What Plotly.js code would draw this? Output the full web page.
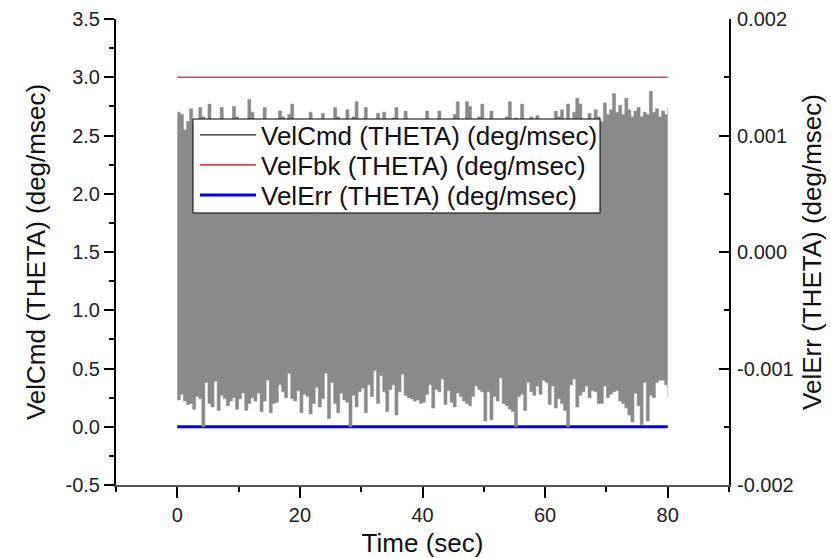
<!DOCTYPE html>
<html>
<head>
<meta charset="utf-8">
<script src="https://cdn.plot.ly/plotly-3.0.1.min.js"></script>
<style>html,body{margin:0;padding:0;background:#fff;}#chart{width:831px;height:558px;}</style>
</head>
<body>
<div id="chart"></div>
<script>
// Sampling grid for VelCmd envelope (seconds)
const timeStart = 0;
const timeStep = 0.5;
// VelCmd (THETA) upper envelope (peaks), one value per 0.5 s from 0 to 80 s
const velCmdUpper = [
  2.70,2.68,2.55,2.62,2.73,2.60,2.62,2.74,2.66,2.60,
  2.77,2.62,2.64,2.60,2.74,2.62,2.60,2.63,2.75,2.66,
  2.60,2.62,2.64,2.81,2.70,2.60,2.62,2.60,2.74,2.60,
  2.62,2.60,2.64,2.71,2.66,2.60,2.68,2.77,2.63,2.60,
  2.62,2.60,2.64,2.70,2.62,2.60,2.63,2.69,2.60,2.62,
  2.64,2.74,2.66,2.60,2.63,2.72,2.62,2.66,2.79,2.62,
  2.60,2.74,2.63,2.60,2.64,2.69,2.60,2.70,2.62,2.60,
  2.65,2.74,2.62,2.60,2.71,2.62,2.60,2.64,2.62,2.60,
  2.63,2.71,2.60,2.62,2.64,2.71,2.60,2.62,2.60,2.64,
  2.68,2.79,2.62,2.60,2.79,2.75,2.62,2.60,2.66,2.77,
  2.62,2.60,2.71,2.62,2.60,2.63,2.60,2.66,2.79,2.62,
  2.65,2.60,2.77,2.63,2.60,2.66,2.62,2.67,2.60,2.62,
  2.64,2.60,2.62,2.71,2.66,2.72,2.62,2.77,2.64,2.70,
  2.82,2.77,2.62,2.60,2.69,2.62,2.72,2.66,2.62,2.78,
  2.68,2.72,2.86,2.70,2.76,2.68,2.82,2.72,2.66,2.71,
  2.74,2.66,2.70,2.68,2.88,2.70,2.73,2.66,2.71,2.68,
  2.74
];
// VelCmd (THETA) lower envelope (troughs), one value per 0.5 s from 0 to 80 s
const velCmdLower = [
  0.23,0.28,0.22,0.19,0.20,0.15,0.26,0.24,0.00,0.38,
  0.20,0.17,0.39,0.14,0.27,0.24,0.18,0.22,0.25,0.15,
  0.24,0.29,0.14,0.20,0.25,0.22,0.29,0.13,0.22,0.40,
  0.12,0.20,0.21,0.36,0.30,0.25,0.46,0.24,0.22,0.31,
  0.12,0.28,0.26,0.11,0.20,0.34,0.17,0.24,0.46,0.07,
  0.38,0.20,0.12,0.29,0.23,0.21,0.00,0.27,0.17,0.30,
  0.33,0.12,0.36,0.26,0.48,0.20,0.44,0.30,0.13,0.32,
  0.36,0.10,0.30,0.45,0.27,0.25,0.24,0.22,0.23,0.20,
  0.21,0.28,0.36,0.16,0.32,0.30,0.41,0.19,0.31,0.21,
  0.17,0.29,0.26,0.22,0.20,0.18,0.26,0.35,0.32,0.30,
  0.05,0.30,0.06,0.26,0.22,0.42,0.20,0.18,0.15,0.13,
  0.00,0.26,0.28,0.14,0.38,0.30,0.27,0.35,0.28,0.40,
  0.38,0.19,0.35,0.16,0.24,0.20,0.14,0.00,0.36,0.41,
  0.17,0.27,0.30,0.35,0.25,0.31,0.30,0.20,0.20,0.35,
  0.25,0.28,0.30,0.31,0.22,0.20,0.16,0.10,0.04,0.29,
  0.18,0.02,0.38,0.05,0.27,0.25,0.38,0.40,0.40,0.36,
  0.25
];
// VelFbk (THETA) and VelErr (THETA)
const velFbkTime = [0, 80];
const velFbkValues = [3.0, 3.0];
const velErrTime = [0, 80];
const velErrValues = [0.0, 0.0];

// Axis ticks
const xTickVals = [0, 20, 40, 60, 80];
const xTickText = ['0', '20', '40', '60', '80'];
const yTickVals = [-0.5, 0, 0.5, 1.0, 1.5, 2.0, 2.5, 3.0, 3.5];
const yTickText = ['-0.5', '0.0', '0.5', '1.0', '1.5', '2.0', '2.5', '3.0', '3.5'];
const y2TickVals = [-0.002, -0.001, 0, 0.001, 0.002];
const y2TickText = ['-0.002', '-0.001', '0.000', '0.001', '0.002'];

const seriesNames = ['VelCmd (THETA) (deg/msec)', 'VelFbk (THETA) (deg/msec)', 'VelErr (THETA) (deg/msec)'];

const timeGrid = velCmdUpper.map((_, i) => timeStart + i * timeStep);

const FONT = 'Arial, "Liberation Sans", sans-serif';
const GRAY = '#8a8a8a';
const traces = [
  {x: velErrTime, y: velErrValues, type: 'scatter', mode: 'lines', name: seriesNames[2],
   line: {color: '#0000ff', width: 3}, legend: 'legend3', hoverinfo: 'skip'},
  {x: timeGrid, y: velCmdLower, type: 'scatter', mode: 'lines', showlegend: false,
   line: {color: GRAY, width: 0.5, shape: 'hv'}, hoverinfo: 'skip'},
  {x: timeGrid, y: velCmdUpper, type: 'scatter', mode: 'lines', showlegend: false, fill: 'tonexty',
   fillcolor: GRAY, line: {color: GRAY, width: 0.5, shape: 'hv'}, hoverinfo: 'skip'},
  {x: [null], y: [null], yaxis: 'y2', type: 'scatter', mode: 'lines', name: seriesNames[0],
   line: {color: '#222222', width: 1.3}, legend: 'legend', hoverinfo: 'skip'},
  {x: velFbkTime, y: velFbkValues, type: 'scatter', mode: 'lines', name: seriesNames[1],
   line: {color: '#d04a48', width: 1.6}, legend: 'legend2', hoverinfo: 'skip'}
];

function legendAt(yc) {
  return {x: 0.1256 + 2 / 613, y: (485 - yc) / 466, xanchor: 'left', yanchor: 'middle',
          bgcolor: 'rgba(0,0,0,0)', borderwidth: 0, itemwidth: 56,
          font: {family: FONT, size: 26, color: '#111111'}};
}

const layout = {
  width: 831, height: 558,
  margin: {l: 116, r: 102, t: 19, b: 73},
  paper_bgcolor: '#ffffff', plot_bgcolor: '#ffffff',
  font: {family: FONT, color: '#222222', size: 20},
  showlegend: true,
  legend: legendAt(135),
  legend2: legendAt(165),
  legend3: legendAt(195),
  shapes: [{type: 'rect', xref: 'paper', yref: 'paper', x0: 0.1256, x1: 0.7896, y0: 0.5837, y1: 0.7854,
            fillcolor: '#ffffff', line: {color: '#000000', width: 1}, layer: 'above'}],
  xaxis: {range: [-10, 90], tickvals: xTickVals, ticktext: xTickText, ticks: 'outside', ticklen: 11,
          tickwidth: 2, tickcolor: '#000000', showline: true, linecolor: '#555555', linewidth: 2,
          showgrid: false, zeroline: false, tickfont: {size: 20, color: '#222222'},
          minor: {dtick: 10, tick0: 0, ticks: 'outside', ticklen: 5, tickwidth: 2, tickcolor: '#000000', showgrid: false},
          title: {text: 'Time (sec)', font: {size: 26, color: '#111111'}, standoff: 12}},
  yaxis: {range: [-0.5, 3.5], tickvals: yTickVals, ticktext: yTickText, ticks: 'outside', ticklen: 10,
          tickwidth: 2, tickcolor: '#000000', showline: true, linecolor: '#000000', linewidth: 2,
          showgrid: false, zeroline: false, tickfont: {size: 20, color: '#222222'},
          minor: {dtick: 0.25, tick0: 0, ticks: 'outside', ticklen: 5, tickwidth: 2, tickcolor: '#000000', showgrid: false},
          title: {text: seriesNames[0], font: {size: 26, color: '#111111'}, standoff: 12}},
  yaxis2: {overlaying: 'y', side: 'right', anchor: 'x', range: [-0.002, 0.002], tickvals: y2TickVals, ticktext: y2TickText,
          ticks: 'inside', ticklen: 10, tickwidth: 2, tickcolor: '#000000', showline: true, linecolor: '#000000', linewidth: 2,
          showgrid: false, zeroline: false, tickfont: {size: 20, color: '#222222'}, ticklabelstandoff: 2,
          minor: {dtick: 0.0005, tick0: 0, ticks: 'inside', ticklen: 5, tickwidth: 2, tickcolor: '#000000', showgrid: false},
          title: {text: seriesNames[2], font: {size: 26, color: '#111111'}, standoff: 10}}
};

Plotly.newPlot('chart', traces, layout, {staticPlot: true, displayModeBar: false});
</script>
</body>
</html>
